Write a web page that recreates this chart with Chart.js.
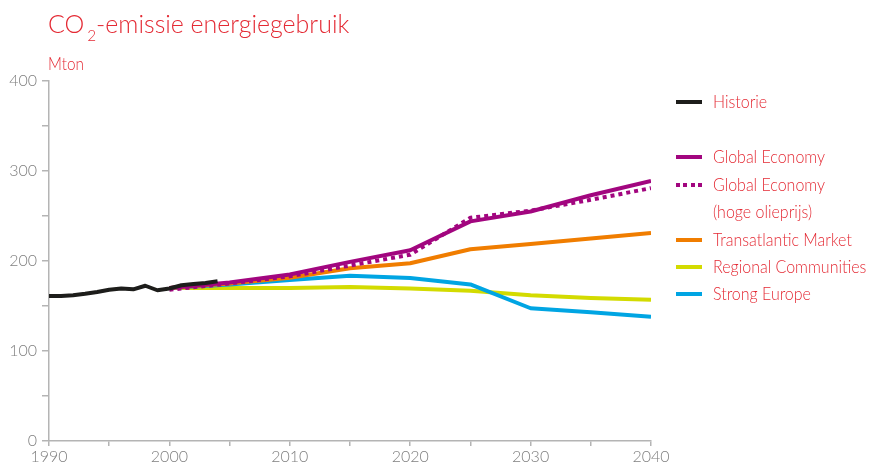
<!DOCTYPE html>
<html>
<head>
<meta charset="utf-8">
<script src="https://cdn.jsdelivr.net/npm/chart.js@4.4.1/dist/chart.umd.min.js"></script>
<style>
  body { margin: 0; background: #fff; font-family: Lato, "DejaVu Sans Condensed", sans-serif; font-weight: 300; }
  #wrap { position: relative; width: 872px; height: 466px; }
  #titel { position: absolute; left: 48px; top: 7px; font-size: 26px; color: #e42a34; white-space: nowrap; transform: scaleX(0.96); transform-origin: 0 0; }
  #titel sub { font-size: 16px; position: relative; top: 8px; vertical-align: baseline; margin-left: 3px; }
  #eenheid { position: absolute; left: 48px; top: 53px; font-size: 17px; color: #e42a34; transform: scaleX(0.9); transform-origin: 0 0; }
  #legenda { position: absolute; left: 676px; top: 0; }
  .item { position: absolute; left: 0; white-space: nowrap; font-size: 17px; color: #e42a34; line-height: 27px; }
  .item span.lijn { position: absolute; left: 0; top: 12px; width: 26px; height: 4px; }
  .item span.tekst { position: absolute; left: 37px; top: 0; transform: scaleX(0.94); transform-origin: 0 0; }
</style>
</head>
<body>
<div id="wrap">
  <canvas id="co2Chart" width="872" height="466"></canvas>
  <div id="titel">CO<sub>2</sub>-emissie energiegebruik</div>
  <div id="eenheid">Mton</div>
  <div id="legenda"></div>
</div>
<script>
// Data: historie (jaarlijks) en scenario's (per 5 jaar)
const jarenHistorie = [1990, 1991, 1992, 1993, 1994, 1995, 1996, 1997, 1998, 1999, 2000, 2001, 2002, 2003, 2004];
const historie = [161, 161, 162, 163.5, 165.5, 168, 169.5, 168.5, 172.5, 167.5, 169.5, 173, 174.5, 175.5, 177.5];

const jarenScenario = [2000, 2005, 2010, 2015, 2020, 2025, 2030, 2035, 2040];
const globalEconomy = [170, 176, 185, 199, 212, 244, 255, 273, 289];
const globalEconomyOlie = [168, 175, 183, 195, 207, 248, 256, 268, 281];
const transatlanticMarket = [170, 175, 181.5, 192, 197.5, 213, 219, 225, 231];
const regionalCommunities = [170, 170, 170, 171, 169.5, 167, 162, 159, 157];
const strongEurope = [170, 174, 179, 183.5, 181, 174, 147.5, 143, 138];

const jaarTicks = [1990, 2000, 2010, 2020, 2030, 2040];
const waardeTicks = [0, 100, 200, 300, 400];

const kleuren = {
    historie: '#1d1d1b',
    global: '#a2067f',
    transatlantic: '#f07d00',
    regional: '#d3db00',
    strong: '#00a5e3'
};

function punten(jaren, waarden) {
    return jaren.map((j, i) => ({ x: j, y: waarden[i] }));
}

const datasets = [
    { label: 'Historie', data: punten(jarenHistorie, historie), borderColor: kleuren.historie, order: 0 },
    { label: 'Global Economy', data: punten(jarenScenario, globalEconomy), borderColor: kleuren.global, order: 2 },
    { label: 'Global Economy\n(hoge olieprijs)', data: punten(jarenScenario, globalEconomyOlie), borderColor: kleuren.global, borderDash: [4, 4], order: 1 },
    { label: 'Transatlantic Market', data: punten(jarenScenario, transatlanticMarket), borderColor: kleuren.transatlantic, order: 3 },
    { label: 'Regional Communities', data: punten(jarenScenario, regionalCommunities), borderColor: kleuren.regional, order: 5 },
    { label: 'Strong Europe', data: punten(jarenScenario, strongEurope), borderColor: kleuren.strong, order: 4 }
];

datasets.forEach(d => {
    d.borderWidth = 4;
    d.pointRadius = 0;
    d.tension = 0;
    d.fill = false;
    d.borderCapStyle = 'butt';
    d.borderJoinStyle = 'round';
});

const tickFont = { family: 'Lato, "DejaVu Sans Condensed", sans-serif', size: 16, weight: 300 };

const ctx = document.getElementById('co2Chart').getContext('2d');
const co2Chart = new Chart(ctx, {
    type: 'line',
    data: { datasets: datasets },
    options: {
        responsive: false,
        animation: false,
        layout: { padding: { top: 81, right: 221, bottom: 0, left: 0 } },
        plugins: {
            legend: { display: false },
            tooltip: { enabled: false }
        },
        scales: {
            x: {
                type: 'linear',
                min: 1990,
                max: 2040,
                afterFit: function(scale) { scale.height = 25; },
                afterBuildTicks: function(scale) {
                    scale.ticks = [];
                    for (let j = 1990; j <= 2040; j += 5) scale.ticks.push({ value: j });
                },
                ticks: {
                    color: '#808080',
                    font: tickFont,
                    padding: 1,
                    maxRotation: 0,
                    autoSkip: false,
                    callback: v => jaarTicks.includes(v) ? String(v) : ''
                },
                grid: { drawOnChartArea: false, tickLength: 5, color: '#b4b4b4', lineWidth: 1.5 },
                border: { color: '#b4b4b4', width: 1.5 }
            },
            y: {
                min: 0,
                max: 400,
                afterFit: function(scale) { scale.width = 49; },
                afterBuildTicks: function(scale) {
                    scale.ticks = [];
                    for (let w = 0; w <= 400; w += 50) scale.ticks.push({ value: w });
                },
                ticks: {
                    color: '#808080',
                    font: tickFont,
                    padding: 5,
                    callback: v => waardeTicks.includes(v) ? String(v) : ''
                },
                grid: { drawOnChartArea: false, tickLength: 7, color: '#b4b4b4', lineWidth: 1.5 },
                border: { color: '#b4b4b4', width: 1.5 }
            }
        }
    }
});

// Legenda rechts naast de grafiek, met lege regel na Historie
const legendaY = [88, 143, 171, 226, 253, 280];
const legenda = document.getElementById('legenda');
datasets.forEach((d, i) => {
    const item = document.createElement('div');
    item.className = 'item';
    item.style.top = legendaY[i] + 'px';
    const lijn = document.createElement('span');
    lijn.className = 'lijn';
    if (d.borderDash) {
        // vierkante puntjes zoals in de grafiek
        lijn.style.background = 'repeating-linear-gradient(to right, ' + d.borderColor + ' 0 4px, transparent 4px 7.4px)';
    } else {
        lijn.style.background = d.borderColor;
    }
    const tekst = document.createElement('span');
    tekst.className = 'tekst';
    tekst.innerHTML = d.label.replace('\n', '<br>');
    item.appendChild(lijn);
    item.appendChild(tekst);
    legenda.appendChild(item);
});
</script>
</body>
</html>
